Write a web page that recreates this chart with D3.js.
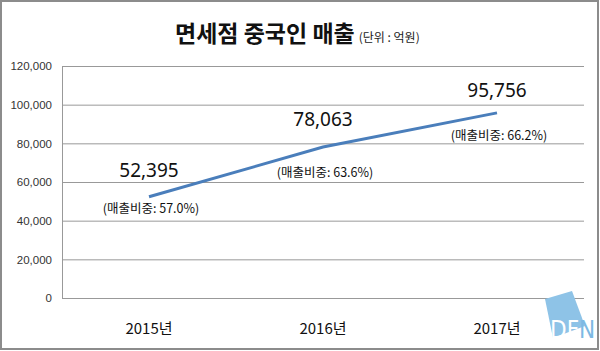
<!DOCTYPE html>
<html>
<head>
<meta charset="utf-8">
<script src="https://cdn.jsdelivr.net/npm/d3@7"></script>
<style>
  body { margin: 0; background: #fff; }
  svg text { font-family: "Malgun Gothic", "Noto Sans CJK KR", sans-serif; }
</style>
</head>
<body>
<div class="line-chart"></div>
<script>
var years = ["2015년", "2016년", "2017년"];
var sales = [52395, 78063, 95756];
var shares = ["57.0%", "63.6%", "66.2%"];
var yTicks = [0, 20000, 40000, 60000, 80000, 100000, 120000];

var width = 600, height = 351;
var margin = { top: 66, right: 16, bottom: 53, left: 62 };

var svg = d3.select(".line-chart")
  .append("svg")
  .attr("width", width)
  .attr("height", height);

// outer frame
svg.append("rect")
  .attr("x", 1).attr("y", 1)
  .attr("width", width - 3).attr("height", height - 3)
  .attr("fill", "#fff")
  .attr("stroke", "#8c8c8c")
  .attr("stroke-width", 2);

// title
var title = svg.append("text")
  .attr("x", 175).attr("y", 42);
title.append("tspan")
  .attr("font-size", 23)
  .attr("font-weight", "bold")
  .attr("fill", "#111")
  .text("면세점 중국인 매출");
title.append("tspan")
  .attr("font-size", 12)
  .attr("fill", "#222")
  .attr("dx", 4)
  .text("(단위 : 억원)");

var x = d3.scaleBand()
  .domain(years)
  .range([margin.left, width - margin.right]);

var y = d3.scaleLinear()
  .domain([0, 120000])
  .range([height - margin.bottom, margin.top]);

// gridlines + y labels
var yAxis = svg.append("g")
  .attr("transform", "translate(" + margin.left + ",0)")
  .call(d3.axisLeft(y)
    .tickValues(yTicks)
    .tickSize(-(width - margin.left - margin.right))
    .tickPadding(10)
    .tickFormat(d3.format(",")));
yAxis.select(".domain").attr("stroke", "#999");
yAxis.selectAll(".tick line").attr("stroke", "#999");
yAxis.selectAll(".tick text")
  .attr("fill", "#333")
  .attr("font-size", 11.5)
  .style("font-family", "Arial, 'Liberation Sans', sans-serif");

// x labels
svg.append("g")
  .selectAll("text")
  .data(years)
  .enter()
  .append("text")
  .attr("x", function (d) { return x(d) + x.bandwidth() / 2; })
  .attr("y", 334)
  .attr("text-anchor", "middle")
  .attr("font-size", 15)
  .attr("fill", "#111")
  .text(function (d) { return d; });

var points = years.map(function (d, i) {
  return { year: d, value: sales[i], share: shares[i] };
});

var line = d3.line()
  .x(function (d) { return x(d.year) + x.bandwidth() / 2; })
  .y(function (d) { return y(d.value); });

svg.append("path")
  .datum(points)
  .attr("d", line)
  .attr("fill", "none")
  .attr("stroke", "#4a7ebb")
  .attr("stroke-width", 3);

// value labels
var valueOffsets = [-20, -21, -16];
svg.append("g")
  .selectAll("text")
  .data(points)
  .enter()
  .append("text")
  .attr("x", function (d) { return x(d.year) + x.bandwidth() / 2; })
  .attr("y", function (d, i) { return y(d.value) + valueOffsets[i]; })
  .attr("text-anchor", "middle")
  .attr("font-size", 19)
  .attr("fill", "#111")
  .style("font-family", "'Malgun Gothic', 'Noto Sans', sans-serif")
  .text(function (d) { return d3.format(",")(d.value); });

// share labels
var shareOffsets = [16, 30, 27];
svg.append("g")
  .selectAll("text")
  .data(points)
  .enter()
  .append("text")
  .attr("x", function (d) { return x(d.year) + x.bandwidth() / 2 + 2; })
  .attr("y", function (d, i) { return y(d.value) + shareOffsets[i]; })
  .attr("text-anchor", "middle")
  .attr("font-size", 12.5)
  .attr("fill", "#111")
  .text(function (d) { return "(매출비중: " + d.share + ")"; });

// DFN logo
var logo = svg.append("g").attr("transform", "translate(545,291)");
logo.append("path")
  .attr("d", "M0,8 L27,0 L40,35 L8,47 Z")
  .attr("fill", "#8ec3e7");
logo.append("text")
  .attr("x", 5).attr("y", 47)
  .attr("font-size", 24)
  .attr("fill", "#fff")
  .style("font-family", "'DejaVu Sans Condensed', sans-serif")
  .text("DF");
logo.append("text")
  .attr("x", 34).attr("y", 47)
  .attr("font-size", 24)
  .attr("fill", "#7db9e3")
  .style("font-family", "'DejaVu Sans Condensed', sans-serif")
  .text("N");
</script>
</body>
</html>
